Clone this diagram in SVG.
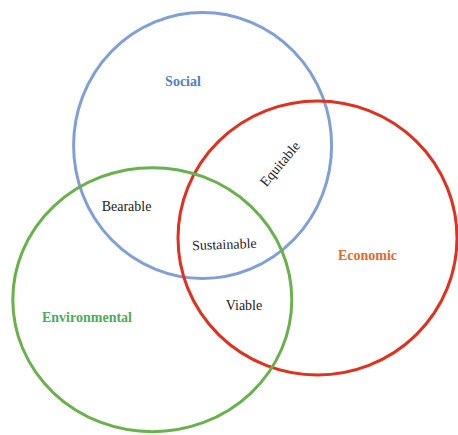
<svg xmlns="http://www.w3.org/2000/svg" width="458" height="435" viewBox="0 0 458 435">
<style>
.c{fill:none;stroke-width:3}
.t{font-family:"Liberation Serif","Times New Roman",serif;font-size:14px;text-anchor:middle}
.b{font-weight:bold}
.k{fill:#222}
</style>
<rect width="458" height="435" fill="#fff"/>
<g id="social">
<ellipse class="c" cx="202.6" cy="145.5" rx="129" ry="133" stroke="#7f9fd6"/>
<text class="t b" x="183" y="86" fill="#4f7fc4">Social</text>
</g>
<g id="economic">
<ellipse class="c" cx="317.5" cy="238" rx="139.5" ry="137" stroke="#e0301e"/>
<text class="t b" x="367.5" y="260" fill="#e06a2a">Economic</text>
</g>
<g id="environmental">
<ellipse class="c" cx="152.3" cy="299.7" rx="139.5" ry="132" stroke="#6ab04c"/>
<text class="t b" x="87" y="322" fill="#4faa5a">Environmental</text>
</g>
<g id="bearable"><text class="t k" x="126.5" y="211">Bearable</text></g>
<g id="sustainable"><text class="t k" transform="translate(224.5,249) rotate(-2)">Sustainable</text></g>
<g id="viable"><text class="t k" x="244" y="310">Viable</text></g>
<g id="equitable"><text class="t k" transform="translate(280,164) rotate(-50)" y="4.5">Equitable</text></g>
<g id="connectors"></g>
</svg>
